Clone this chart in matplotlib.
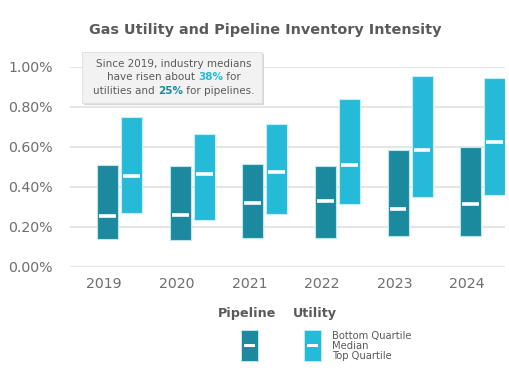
import matplotlib
matplotlib.use("Agg")
import matplotlib.pyplot as plt
from matplotlib.patches import Rectangle

years = ["2019", "2020", "2021", "2022", "2023", "2024"]

# values in percent
pipeline_bottom = [0.140, 0.135, 0.145, 0.147, 0.155, 0.155]
pipeline_median = [0.253, 0.258, 0.320, 0.332, 0.288, 0.315]
pipeline_top = [0.509, 0.503, 0.513, 0.503, 0.585, 0.598]

utility_bottom = [0.268, 0.233, 0.265, 0.313, 0.348, 0.360]
utility_median = [0.453, 0.463, 0.475, 0.510, 0.585, 0.623]
utility_top = [0.750, 0.663, 0.715, 0.842, 0.957, 0.943]

yticks = [0.0, 0.2, 0.4, 0.6, 0.8, 1.0]

PIPE = "#1C8A9E"
UTIL = "#25BBD8"
GRAY = "#5a5a5a"

W, H = 510, 382
plt.rcParams["font.family"] = ["DejaVu Sans"]

fig = plt.figure(figsize=(W / 100, H / 100), dpi=100)
fig.patch.set_facecolor("white")


def fx(x):
    return x / W


def fy(y):
    return 1 - y / H


ax = fig.add_axes([fx(70), fy(267), fx(505) - fx(70), fy(67) - fy(267)])

bar_w = 0.29
x = list(range(len(years)))
xp = [i + 0.048 for i in x]
xu = [i + 0.378 for i in x]

ax.bar(xp, [t - b for t, b in zip(pipeline_top, pipeline_bottom)], bottom=pipeline_bottom,
       width=bar_w, color=PIPE, edgecolor="#bfe6ee", linewidth=0.8, zorder=3)
ax.bar(xu, [t - b for t, b in zip(utility_top, utility_bottom)], bottom=utility_bottom,
       width=bar_w, color=UTIL, edgecolor="#c6eef7", linewidth=0.8, zorder=3)

mw = bar_w * 0.4
ax.hlines(pipeline_median, [v - mw for v in xp], [v + mw for v in xp], color="white", lw=2.6, zorder=4)
ax.hlines(utility_median, [v - mw for v in xu], [v + mw for v in xu], color="white", lw=2.6, zorder=4)

ax.set_xlim(-0.468, 5.52)
ax.set_ylim(0, 1.0)
ax.set_yticks(yticks)
ax.set_yticklabels([f"{v:.2f}%" for v in yticks])
ax.set_xticks(x)
ax.set_xticklabels(years)
ax.tick_params(axis="both", length=0, labelsize=10.2, colors="#6e6e6e")
ax.tick_params(axis="y", pad=12.2)
ax.tick_params(axis="x", pad=7.5)
ax.grid(axis="y", color="#e6e6e6", lw=1.5, zorder=0)
for s in ax.spines.values():
    s.set_visible(False)

fig.text(fx(265), fy(30), "Gas Utility and Pipeline Inventory Intensity", ha="center", va="center",
         fontsize=10.4, fontweight="bold", color=GRAY)

# annotation box
fig.patches.append(Rectangle((fx(84), fy(105)), fx(262) - fx(82), fy(52) - fy(103),
                             transform=fig.transFigure, facecolor="#d8d8d8", edgecolor="none", zorder=1))
fig.patches.append(Rectangle((fx(82), fy(103)), fx(262) - fx(82), fy(52) - fy(103),
                             transform=fig.transFigure, facecolor="#f2f2f2", edgecolor="#dddddd",
                             lw=0.6, zorder=1.1))

renderer = fig.canvas.get_renderer()


def seg_width(s, size, weight):
    t1 = fig.text(0, 0, "|" + s + "|", fontsize=size, fontweight=weight)
    t2 = fig.text(0, 0, "||", fontsize=size, fontweight=weight)
    w = t1.get_window_extent(renderer).width - t2.get_window_extent(renderer).width
    t1.remove()
    t2.remove()
    return w / W


def centered_row(xc, y, segments, size=7.5):
    widths = [seg_width(s, size, wt) for s, c, wt in segments]
    cur = xc - sum(widths) / 2
    for (s, c, wt), w in zip(segments, widths):
        fig.text(cur, y, s, color=c, fontweight=wt, fontsize=size, ha="left", va="center", zorder=5)
        cur += w


centered_row(fx(174), fy(64), [("Since 2019, industry medians", GRAY, "normal")])
centered_row(fx(174), fy(77.5), [("have risen about ", GRAY, "normal"), ("38%", UTIL, "bold"),
                                 (" for", GRAY, "normal")])
centered_row(fx(174), fy(91), [("utilities and ", GRAY, "normal"), ("25%", PIPE, "bold"),
                               (" for pipelines.", GRAY, "normal")])

# legend
fig.text(fx(247), fy(313), "Pipeline", ha="center", va="center", fontsize=9.2, fontweight="bold", color=GRAY)
fig.text(fx(315), fy(313), "Utility", ha="center", va="center", fontsize=9.2, fontweight="bold", color=GRAY)
for x0, c in [(241, PIPE), (304, UTIL)]:
    fig.patches.append(Rectangle((fx(x0), fy(361)), fx(17.5), fy(0) - fy(31), transform=fig.transFigure,
                                 facecolor=c, edgecolor="#c6eef7", lw=0.6, zorder=2))
    fig.patches.append(Rectangle((fx(x0 + 3.5), fy(347.3)), fx(10.5), fy(0) - fy(3.2), transform=fig.transFigure,
                                 facecolor="white", edgecolor="none", zorder=3))
for yy, lab in [(335.5, "Bottom Quartile"), (345.7, "Median"), (356, "Top Quartile")]:
    fig.text(fx(332), fy(yy), lab, ha="left", va="center", fontsize=7.2, color=GRAY)

fig.savefig("out.png", dpi=100, facecolor="white")
